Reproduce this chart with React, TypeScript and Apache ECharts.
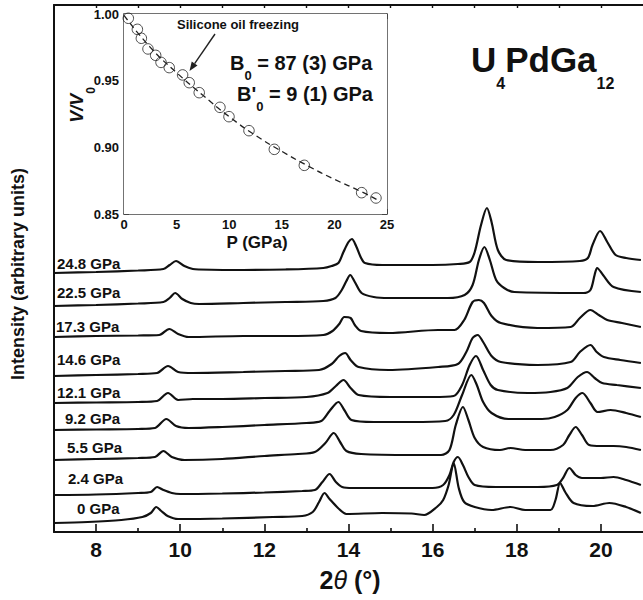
import { useEffect, useRef } from 'react';
import * as echarts from 'echarts';

// Stacked powder diffraction scans of U4PdGa12 (2θ in degrees, intensity in arbitrary units incl. stacking offset)
const pressureLabels = ['0 GPa', '2.4 GPa', '5.5 GPa', '9.2 GPa', '12.1 GPa', '14.6 GPa', '17.3 GPa', '22.5 GPa', '24.8 GPa'];

const scan0 = [[7.0,9],[7.8,10],[8.6,12],[9.1,15],[9.3,19],[9.43,25],[9.55,21],[9.7,16],[9.95,13],[11.0,13.5],[12.2,15],[12.9,16],[13.15,20],[13.3,30],[13.43,39],[13.55,33],[13.75,24],[13.95,18],[14.8,19],[15.5,18.5],[15.8,17],[16.1,25],[16.25,32],[16.38,47],[16.5,69],[16.62,44],[16.75,30],[17.0,25],[17.4,22],[17.85,25],[18.2,22],[18.8,22],[18.92,32],[19.03,49],[19.15,40],[19.35,29],[19.8,26],[20.2,29],[20.6,25],[20.95,19]];
const scan2p4 = [[7.0,37],[8.0,37.5],[9.0,39],[9.3,40],[9.45,45],[9.6,42],[9.8,39],[10.0,38],[11.0,38.5],[12.0,39.5],[12.9,41],[13.2,42],[13.38,50],[13.55,58],[13.7,50],[13.85,45],[14.1,44],[15.0,44],[16.0,44],[16.25,47],[16.4,57],[16.5,70],[16.6,75],[16.72,67],[16.85,55],[17.0,47],[17.5,45],[18.5,45],[18.95,47],[19.1,54],[19.25,64],[19.4,57],[19.55,54],[20.0,54],[20.3,55],[20.6,52],[20.95,47]];
const scan5p5 = [[7.0,72],[8.0,73],[9.0,74],[9.4,75],[9.6,81],[9.8,75],[10.1,72],[11.0,73],[12.0,76],[12.8,78],[13.2,80],[13.45,89],[13.65,99],[13.8,90],[13.95,81],[14.3,78],[15.5,77],[16.2,77],[16.4,82],[16.55,107],[16.72,125],[16.85,112],[17.0,94],[17.2,85],[17.6,82],[17.85,84],[18.2,82],[18.8,82],[19.1,87],[19.25,97],[19.4,105],[19.55,97],[19.72,87],[20.0,86],[20.3,86],[20.6,85],[20.95,82]];
const scan9p2 = [[7.0,102],[8.0,102.5],[9.0,103],[9.4,104],[9.67,113],[9.9,106],[10.2,104],[11.0,105],[12.0,107],[13.0,109],[13.35,111],[13.55,121],[13.76,130],[13.9,122],[14.07,112],[14.6,110],[15.5,110],[16.3,111],[16.5,117],[16.7,137],[16.92,157],[17.05,147],[17.2,130],[17.4,119],[17.8,113],[18.6,113],[18.9,115],[19.2,122],[19.4,134],[19.56,139],[19.75,129],[19.92,120],[20.23,122],[20.6,119],[20.95,115]];
const scan12p1 = [[7.0,129],[8.0,129.5],[9.0,130],[9.45,131],[9.71,139],[9.95,132],[10.3,133],[11.0,133],[12.0,134],[13.0,135],[13.5,139],[13.7,146],[13.88,152],[14.05,144],[14.24,137],[15.0,135],[16.0,135],[16.5,136],[16.7,147],[16.88,167],[17.03,176],[17.2,162],[17.38,147],[17.55,142],[18.26,139],[18.8,140],[19.2,144],[19.45,155],[19.67,160],[19.85,154],[20.03,149],[20.38,147],[20.95,144]];
const scan14p6 = [[7.0,156],[8.0,157],[9.0,158],[9.45,159],[9.71,166],[9.95,160],[10.3,159],[11.5,160],[12.5,161],[13.3,162],[13.6,168],[13.78,176],[13.92,179],[14.05,172],[14.24,165],[14.95,162],[16.13,165],[16.6,168],[16.8,180],[16.95,194],[17.07,197],[17.2,190],[17.4,176],[17.62,170],[18.49,167],[19.28,170],[19.5,180],[19.75,187],[19.9,180],[20.07,175],[20.46,172],[20.95,169]];
const scan17p3 = [[7.0,195],[8.0,196],[9.0,196.5],[9.5,197],[9.74,203],[9.95,198],[10.2,195],[11.5,196],[12.5,196],[13.4,197],[13.62,201],[13.78,208],[13.9,215],[14.05,214],[14.15,207],[14.3,201],[14.95,199],[16.13,202],[16.52,202],[16.75,212],[16.95,230],[17.1,232],[17.22,229],[17.4,216],[17.62,209],[18.49,204],[19.28,205],[19.5,214],[19.75,222],[19.95,217],[20.15,212],[20.5,209],[20.95,205]];
const scan22p5 = [[7.0,226],[8.0,227],[9.0,228.5],[9.6,230],[9.75,234],[9.88,239],[10.05,233],[10.25,229],[10.45,228],[11.5,229],[12.5,230],[13.4,231],[13.69,234],[13.84,242],[13.95,251],[14.04,257],[14.15,250],[14.31,239],[14.6,235],[14.95,234],[16.36,234],[16.76,237],[16.95,247],[17.1,272],[17.23,285],[17.36,272],[17.51,252],[17.7,244],[17.94,240],[19.59,239],[19.75,242],[19.85,257],[19.91,264],[20.05,257],[20.3,245],[20.95,240]];
const scan24p8 = [[7.0,259],[8.0,260],[9.0,261.5],[9.6,263],[9.75,267],[9.9,271],[10.1,266],[10.3,263],[10.45,262.5],[11.5,262],[12.5,262.5],[13.4,264],[13.6,266],[13.76,269],[13.88,280],[14.0,290],[14.08,293],[14.18,286],[14.3,274],[14.39,269],[14.8,267],[16.0,267],[16.6,268],[16.88,270],[17.0,280],[17.15,307],[17.29,324],[17.4,310],[17.55,282],[17.75,272],[18.5,270],[19.5,271],[19.69,274],[19.8,287],[19.98,301],[20.15,290],[20.35,277],[20.6,274],[20.95,272]];

const scans = [scan0, scan2p4, scan5p5, scan9p2, scan12p1, scan14p6, scan17p3, scan22p5, scan24p8];

// Main axis ticks
const majorTicks = [8, 10, 12, 14, 16, 18, 20];
const minorTicks = [9, 11, 13, 15, 17, 19];
const topTicks = [8, 9, 10, 11, 12, 13, 14, 15, 16, 17, 18, 19, 20];

// Inset: equation of state, V/V0 against pressure
const pressureGPa = [0.41, 1.27, 1.65, 2.28, 3.01, 3.52, 4.3, 5.57, 6.2, 7.15, 9.12, 9.98, 11.88, 14.29, 17.14, 22.59, 23.95];
const volumeRatio = [0.9968, 0.9885, 0.9818, 0.9738, 0.969, 0.9637, 0.9598, 0.9543, 0.9485, 0.941, 0.93, 0.923, 0.9125, 0.8985, 0.8865, 0.866, 0.862];
const fitPressure = [0, 2.5, 5, 7.5, 10, 12.5, 15, 17.5, 20, 22.5, 24];
const fitVolume = [0.999, 0.975, 0.956, 0.939, 0.923, 0.909, 0.897, 0.886, 0.876, 0.867, 0.861];

// Label anchors (left edge, vertical centre) for the pressure tags, same order as the scans
const labelAnchors = [[77, 508], [68, 478], [67, 447], [65, 418], [57, 392], [57, 359], [56, 326], [57, 292], [57, 263]];

const FONT = '"Liberation Sans", Arial, Helvetica, sans-serif';
const INK = '#111';

function txt(x: number, y: number, text: string, extra: any = {}, rotation = 0) {
  const align = extra.align || 'left';
  const vAlign = extra.verticalAlign || 'middle';
  return {
    type: 'text',
    x,
    y,
    rotation,
    silent: true,
    z: 10,
    style: {
      text,
      fill: INK,
      fontFamily: FONT,
      fontWeight: 'bold',
      fontSize: 14,
      ...extra,
      align,
      verticalAlign: vAlign,
      textAlign: align,
      textVerticalAlign: vAlign,
    },
  };
}

// Text with a lowered subscript: main glyphs hang from the top of the line box,
// subscripts sit on its bottom, so the box height sets the drop.
function subscripted(x: number, y: number, text: string, mainSize: number, subSize: number, boxHeight: number, extra: any = {}, rotation = 0) {
  const align = extra.align || 'left';
  const vAlign = extra.verticalAlign || 'top';
  return {
    type: 'text', x, y, rotation, silent: true, z: 10,
    style: {
      text,
      align, verticalAlign: vAlign, textAlign: align, textVerticalAlign: vAlign,
      rich: {
        m: { fontSize: mainSize, fontWeight: 'bold', fontStyle: extra.italic ? 'italic' : 'normal', fontFamily: FONT, fill: INK, lineHeight: boxHeight, verticalAlign: 'top' },
        s: { fontSize: subSize, fontWeight: 'bold', fontFamily: FONT, fill: INK, verticalAlign: 'bottom' },
      },
    },
  };
}

function buildOption() {
  const mainSeries = scans.map((data) => ({
    type: 'line',
    xAxisIndex: 0,
    yAxisIndex: 0,
    data,
    symbol: 'none',
    showSymbol: false,
    smooth: 0.3,
    silent: true,
    lineStyle: { color: INK, width: 2.2 },
    z: 3,
  }));

  const labels = pressureLabels.map((label, i) =>
    txt(labelAnchors[i][0], labelAnchors[i][1], label, { fontSize: 15 }),
  );

  // Arrow pointing at the freezing point of the pressure medium
  const tip = [189.5, 71];
  const tail = [215, 34];
  const dx = tip[0] - tail[0];
  const dy = tip[1] - tail[1];
  const len = Math.hypot(dx, dy);
  const ux = dx / len;
  const uy = dy / len;
  const headLen = 9;
  const headHalf = 3.5;
  const bx = tip[0] - ux * headLen;
  const by = tip[1] - uy * headLen;

  const mainAxisLine = { show: true, onZero: false, lineStyle: { color: INK, width: 2 } };
  const insetAxisLine = { show: true, onZero: false, lineStyle: { color: '#444', width: 1.5 } };
  const insetTick = { show: true, inside: true, length: 5, lineStyle: { color: '#444', width: 1 } };
  const insetMinor = { show: true, splitNumber: 2, length: 3, lineStyle: { color: '#444', width: 1 } };
  const insetLabel = { fontSize: 13, fontWeight: 'bold', color: INK, fontFamily: FONT };

  return {
    animation: false,
    backgroundColor: '#fff',
    grid: [
      { left: 54, top: 5, width: 592, height: 527, containLabel: false },
      { left: 124, top: 14, width: 263, height: 200, containLabel: false, show: true, backgroundColor: '#fff', borderWidth: 0, z: 5 },
    ],
    xAxis: [
      {
        type: 'value', gridIndex: 0, min: 7, max: 21, position: 'bottom',
        axisLine: mainAxisLine,
        axisTick: { show: true, inside: true, length: 8, customValues: majorTicks, lineStyle: { color: INK, width: 1.6 } },
        axisLabel: { show: true, customValues: majorTicks, fontSize: 21, fontWeight: 'bold', color: INK, fontFamily: FONT, margin: 7 },
        splitLine: { show: false },
      },
      {
        type: 'value', gridIndex: 0, min: 7, max: 21, position: 'bottom',
        axisLine: { show: false },
        axisTick: { show: true, inside: true, length: 4, customValues: minorTicks, lineStyle: { color: INK, width: 1.6 } },
        axisLabel: { show: false },
        splitLine: { show: false },
      },
      {
        type: 'value', gridIndex: 0, min: 7, max: 21, position: 'top',
        axisLine: mainAxisLine,
        axisTick: { show: true, inside: true, length: 3, customValues: topTicks, lineStyle: { color: INK, width: 1.4 } },
        axisLabel: { show: false },
        splitLine: { show: false },
      },
      {
        type: 'value', gridIndex: 1, min: 0, max: 25, interval: 5, position: 'bottom',
        axisLine: insetAxisLine, axisTick: insetTick, minorTick: insetMinor,
        axisLabel: { ...insetLabel, margin: 4 },
        splitLine: { show: false }, minorSplitLine: { show: false },
      },
      {
        type: 'value', gridIndex: 1, min: 0, max: 25, interval: 5, position: 'top',
        axisLine: insetAxisLine, axisTick: insetTick, minorTick: insetMinor,
        axisLabel: { show: false },
        splitLine: { show: false }, minorSplitLine: { show: false },
      },
    ],
    yAxis: [
      {
        type: 'value', gridIndex: 0, min: 0, max: 527, position: 'left',
        axisLine: mainAxisLine, axisTick: { show: false }, axisLabel: { show: false }, splitLine: { show: false },
      },
      {
        type: 'value', gridIndex: 1, min: 0.85, max: 1.0, interval: 0.05, position: 'left',
        axisLine: insetAxisLine, axisTick: insetTick, minorTick: insetMinor,
        axisLabel: { ...insetLabel, margin: 5, formatter: (v: number) => v.toFixed(2) },
        splitLine: { show: false }, minorSplitLine: { show: false },
      },
      {
        type: 'value', gridIndex: 1, min: 0.85, max: 1.0, interval: 0.05, position: 'right',
        axisLine: insetAxisLine, axisTick: insetTick, minorTick: insetMinor,
        axisLabel: { show: false },
        splitLine: { show: false }, minorSplitLine: { show: false },
      },
    ],
    series: [
      ...mainSeries,
      {
        type: 'line',
        xAxisIndex: 3,
        yAxisIndex: 1,
        data: fitPressure.map((p, i) => [p, fitVolume[i]]),
        symbol: 'none',
        showSymbol: false,
        smooth: true,
        silent: true,
        lineStyle: { color: '#222', width: 1.3, type: [6, 4] },
        z: 6,
      },
      {
        type: 'scatter',
        xAxisIndex: 3,
        yAxisIndex: 1,
        data: pressureGPa.map((p, i) => [p, volumeRatio[i]]),
        symbol: 'circle',
        symbolSize: 10.5,
        silent: true,
        itemStyle: { color: 'rgba(255,255,255,0)', borderColor: '#222', borderWidth: 1 },
        z: 7,
      },
    ],
    graphic: [
      ...labels,
      // Vertical axis title of the main panel
      txt(18, 274, 'Intensity (arbitrary units)', { fontSize: 18, align: 'center' }, Math.PI / 2),
      // Horizontal axis title: 2θ (°)
      {
        type: 'text', x: 350, y: 580, silent: true, z: 10,
        style: {
          text: '{n|2}{t|θ}{n| (°)}',
          align: 'center', verticalAlign: 'middle', textAlign: 'center', textVerticalAlign: 'middle',
          rich: {
            n: { fontSize: 25, fontWeight: 'bold', fontFamily: FONT, fill: INK },
            t: { fontSize: 25, fontStyle: 'italic', fontWeight: 'normal', fontFamily: FONT, fill: INK },
          },
        },
      },
      // Inset axis titles
      txt(257, 242, 'P (GPa)', { fontSize: 17, align: 'center' }),
      subscripted(82.25, 105, '{m|V/V}{s|0}', 18, 12, 28.5, { align: 'center', verticalAlign: 'middle', italic: true }, Math.PI / 2),
      // Inset annotations
      txt(238, 24.5, 'Silicone oil freezing', { fontSize: 13, align: 'center' }),
      {
        type: 'line', silent: true, z: 10,
        shape: { x1: tail[0], y1: tail[1], x2: bx, y2: by },
        style: { stroke: '#222', lineWidth: 1.4 },
      },
      {
        type: 'polygon', silent: true, z: 10,
        shape: {
          points: [
            [tip[0], tip[1]],
            [bx + uy * headHalf, by - ux * headHalf],
            [bx - uy * headHalf, by + ux * headHalf],
          ],
        },
        style: { fill: '#222' },
      },
      subscripted(230, 52.8, '{m|B}{s|0}{m| = 87 (3) GPa}', 20, 13, 29),
      subscripted(237, 84.3, "{m|B'}{s|0}{m| = 9 (1) GPa}", 20, 13, 29),
      // Compound formula
      subscripted(471, 42, '{m|U}{s|4}{m|PdGa}{s|12}', 35, 16, 49),
    ],
  };
}

export default function App() {
  const ref = useRef<HTMLDivElement>(null);

  useEffect(() => {
    if (!ref.current) return;
    const chart = echarts.init(ref.current, undefined, { renderer: 'svg' });
    chart.setOption(buildOption() as any);
    return () => chart.dispose();
  }, []);

  return (
    <div
      ref={ref}
      style={{ position: 'absolute', left: 0, top: 0, width: 643, height: 600, background: '#fff' }}
    />
  );
}
